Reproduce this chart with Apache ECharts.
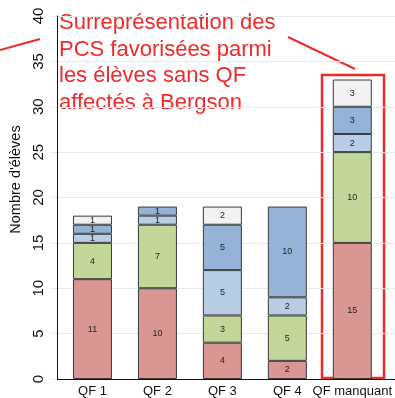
<!DOCTYPE html>
<html>
<head>
<meta charset="utf-8">
<script src="https://cdn.jsdelivr.net/npm/echarts@6/dist/echarts.min.js"></script>
<style>
  html, body { margin: 0; padding: 0; background: #fff; }
  #chart { width: 395px; height: 398px; }
</style>
</head>
<body>
<div id="chart"></div>
<script>
// Number of pupils by family quotient (QF) band, stacked by social category
const categories = ['QF 1', 'QF 2', 'QF 3', 'QF 4', 'QF manquant'];
const pcsTresFavorisee = [11, 10, 4, 2, 15];
const pcsFavorisee     = [4, 7, 3, 5, 10];
const pcsMoyenne       = [1, 1, 5, 2, 2];
const pcsDefavorisee   = [1, 1, 5, 10, 3];
const pcsNonRenseignee = [1, 0, 2, 0, 3];
const yTicks = [0, 5, 10, 15, 20, 25, 30, 35, 40];

const stackParts = [
  { data: pcsTresFavorisee, color: '#d99694' },
  { data: pcsFavorisee,     color: '#c4d79b' },
  { data: pcsMoyenne,       color: '#b9cde5' },
  { data: pcsDefavorisee,   color: '#95b3d7' },
  { data: pcsNonRenseignee, color: '#f2f2f2' }
];

const FONT = "'Liberation Sans', Arial, sans-serif";
const RED = '#ee2a2a';
const yMin = yTicks[0], yMax = yTicks[yTicks.length - 1];

const chart = echarts.init(document.getElementById('chart'));
chart.setOption({
  animation: false,
  grid: [
    { left: 48, right: 0, top: 16, bottom: 19 },
    { left: 60, right: 10, top: 16, bottom: 19 }
  ],
  xAxis: [
    {
      gridIndex: 0, type: 'value', min: 0, max: 1,
      axisLine: { show: true, onZero: false, lineStyle: { color: '#111', width: 1 } },
      axisTick: { show: false }, axisLabel: { show: false }, splitLine: { show: false }
    },
    {
      gridIndex: 1, type: 'category', data: categories,
      axisLine: { show: false }, axisTick: { show: false },
      axisLabel: { color: '#111', fontFamily: FONT, fontSize: 13, margin: 6, interval: 0 }
    }
  ],
  yAxis: [
    {
      gridIndex: 0, type: 'value', min: yMin, max: yMax, interval: 5,
      name: "Nombre d'élèves", nameLocation: 'middle', nameGap: 29,
      nameTextStyle: { color: '#111', fontFamily: FONT, fontSize: 14.5, padding: [0, 0, 0, 36] },
      axisLine: { show: true, lineStyle: { color: '#111', width: 1 } },
      axisTick: { show: true, length: 7, lineStyle: { color: '#e4ecec' } },
      axisLabel: {
        rotate: 90, color: '#111', fontFamily: FONT, fontSize: 15, margin: 0,
        align: 'center', verticalAlign: 'bottom', padding: [0, 0, 11, 0]
      },
      splitLine: { show: true, lineStyle: { color: '#e4ecec', width: 1 } }
    },
    {
      gridIndex: 1, type: 'value', min: yMin, max: yMax, show: false
    }
  ],
  series: stackParts.map((p, i) => ({
    type: 'bar',
    xAxisIndex: 1, yAxisIndex: 1,
    stack: 'pcs',
    barWidth: 39,
    data: p.data.map(v => (v > 0 ? v : null)),
    itemStyle: { color: p.color, borderColor: '#3a3a3a', borderWidth: 1 },
    label: {
      show: true, position: 'inside', color: '#222',
      fontFamily: FONT, fontSize: 9,
      formatter: d => (d.value ? String(d.value) : '')
    }
  })),
  graphic: [
    {
      type: 'text', left: 59, top: 10,
      style: {
        text: 'Surreprésentation des\nPCS favorisées parmi\nles élèves sans QF\naffectés à Bergson',
        fill: RED, font: '22px ' + FONT, lineHeight: 26.5
      }
    },
    {
      type: 'rect',
      shape: { x: 322, y: 75, width: 62, height: 303 },
      style: { fill: 'none', stroke: RED, lineWidth: 2.5 }
    },
    {
      type: 'line',
      shape: { x1: 288, y1: 37, x2: 355, y2: 69 },
      style: { stroke: RED, lineWidth: 2 }
    },
    {
      type: 'line',
      shape: { x1: 0, y1: 50, x2: 40, y2: 39 },
      style: { stroke: RED, lineWidth: 2 }
    }
  ]
});
</script>
</body>
</html>
